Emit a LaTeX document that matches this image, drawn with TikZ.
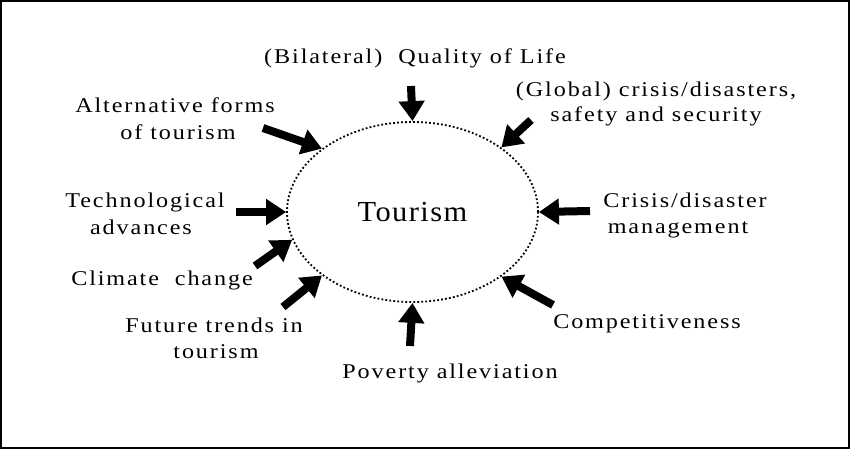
\documentclass[tikz,border=0pt]{standalone}
\usepackage{fontspec}
\setmainfont{Liberation Serif}
\usetikzlibrary{arrows.meta,shapes.geometric}
\begin{document}
\begin{tikzpicture}[x=1pt,y=-1pt,
  lbl/.style={font=\fontsize{21}{26}\selectfont\addfontfeature{FakeStretch=1.15,LetterSpace=9}, anchor=base, inner sep=0pt},
  bigarrow/.style={line width=8pt, -{Triangle[length=20pt,width=25pt]}},
  ring/.style={ellipse, draw, line width=1.8pt, dash pattern=on 1.8pt off 2.2pt,
    minimum width=251pt, minimum height=180pt, inner sep=0pt,
    font=\fontsize{29}{32}\selectfont\addfontfeature{FakeStretch=1.05,LetterSpace=5}}]
\useasboundingbox (0,0) rectangle (850,449);
\draw[line width=2pt] (1,1) rectangle (849,448);

\node[ring] (tour) at (412.5,212) {Tourism};

% labels
\node[lbl] (bil) at (415,64) {(Bilateral)\ \ Quality of Life};
\node[lbl] (glob1) at (656,97) {(Global) crisis/disasters,};
\node[lbl] (glob2) at (656,122) {safety and security};
\node[lbl] (alt1) at (175,113) {Alternative forms};
\node[lbl] (alt2) at (178,140) {of tourism};
\node[lbl] (tech1) at (145,207) {Technological};
\node[lbl] (tech2) at (141,234) {advances};
\node[lbl] (cri1) at (685,207) {Crisis/disaster};
\node[lbl] (cri2) at (678,233) {management};
\node[lbl] (clim) at (162,285) {Climate\ \ change};
\node[lbl] (fut1) at (214,332) {Future trends in};
\node[lbl] (fut2) at (216,358) {tourism};
\node[lbl] (comp) at (647,328) {Competitiveness};
\node[lbl] (pov) at (450,378) {Poverty alleviation};

% arrow tails
\coordinate (tTop) at (411,86);
\coordinate (tUR) at (531,120);
\coordinate (tUL) at (263,128);
\coordinate (tL) at (236,212);
\coordinate (tR) at (590,211);
\coordinate (tClim) at (255,266);
\coordinate (tFut) at (283,307);
\coordinate (tBot) at (410,346);
\coordinate (tComp) at (553,305);

\draw[bigarrow] (tTop) -- (tour.90);
\draw[bigarrow] (tUR) -- (tour.36);
\draw[bigarrow] (tUL) -- (tour.145);
\draw[bigarrow] (tL) -- (tour.180);
\draw[bigarrow] (tR) -- (tour.0);
\draw[bigarrow] (tClim) -- (tour.193);
\draw[bigarrow] (tFut) -- (tour.215);
\draw[bigarrow] (tBot) -- (tour.270);
\draw[bigarrow] (tComp) -- (tour.324);
\end{tikzpicture}
\end{document}
